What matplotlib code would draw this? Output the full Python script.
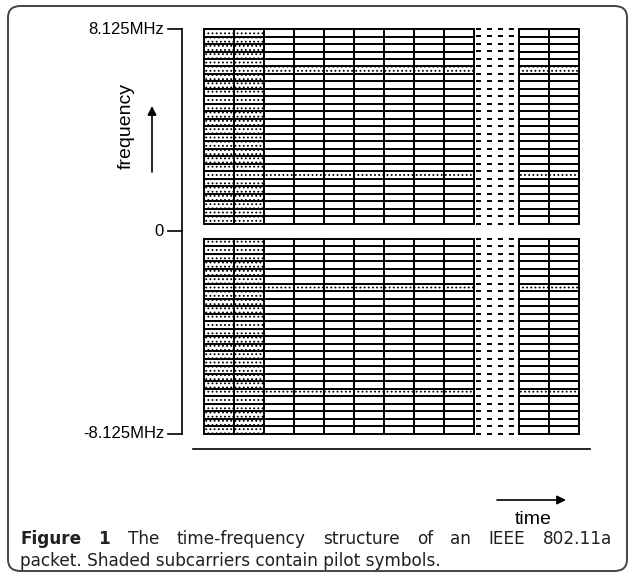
import matplotlib.pyplot as plt
from matplotlib.patches import FancyBboxPatch

plt.rcParams['lines.scale_dashes'] = False
plt.rcParams['hatch.color'] = 'black'
plt.rcParams['hatch.linewidth'] = 0.8

# OFDM symbol grid: 26 subcarriers either side of DC
n_sub = 26
pilot_subcarriers = [-21, -7, 7, 21]
preamble_symbols = 2
symbols_before_gap = 9
symbols_after_gap = 2
freq_ticks = [-27, 0, 27]
freq_labels = ['-8.125MHz', '0', '8.125MHz']

caption_line1 = [('Figure', 'bold'), ('1', 'bold'), ('The', 'normal'),
                 ('time-frequency', 'normal'), ('structure', 'normal'),
                 ('of', 'normal'), ('an', 'normal'), ('IEEE', 'normal'),
                 ('802.11a', 'normal')]
caption_line2 = 'packet. Shaded subcarriers contain pilot symbols.'

fig = plt.figure(figsize=(6.35, 5.77), dpi=100)
ax = fig.add_axes([0, 0, 1, 1])
# one column = 30 px, one subcarrier row = 7.5 px
ax.set_xlim(-204 / 30, (635 - 204) / 30)
ax.set_ylim((231.5 - 577) / 7.5, 231.5 / 7.5)
ax.axis('off')

lw = 1.4
gap = 1.5
cols = list(range(symbols_before_gap)) + \
    [symbols_before_gap + gap + i for i in range(symbols_after_gap)]
subs = [k for k in range(-n_sub, n_sub + 1) if k != 0]

for ci, x0 in enumerate(cols):
    for k in subs:
        y0 = k if k > 0 else k - 1
        shaded = ci < preamble_symbols or k in pilot_subcarriers
        ax.bar(x0, 1, width=1, bottom=y0, align='edge',
               facecolor='white', edgecolor='black', linewidth=lw,
               hatch='....' if shaded else None, zorder=2)

# dashed continuation between the two symbol groups
line_ys = [y for y in range(-n_sub - 1, n_sub + 2) if y != 0]
ax.hlines(line_ys, symbols_before_gap + 2 / 30, symbols_before_gap + gap - 3 / 30,
          colors='black', linewidth=lw, linestyles=[(0, (3.6, 4.3))])

# frequency axis with ticks
ax_x = -22 / 30
ax.plot([ax_x, ax_x], [freq_ticks[0], freq_ticks[-1]], color='black', lw=1.2)
for t, lab in zip(freq_ticks, freq_labels):
    ax.plot([ax_x - 14 / 30, ax_x], [t, t], color='black', lw=1.2)
    ax.text(ax_x - 18 / 30, t, lab, ha='right', va='center',
            fontsize=12, family='Liberation Sans')

ax.annotate('', xy=(-52 / 30, (231.5 - 106) / 7.5), xytext=(-52 / 30, (231.5 - 172) / 7.5),
            arrowprops=dict(arrowstyle='-|>', color='black', lw=1.2,
                            mutation_scale=13, shrinkA=0, shrinkB=0))
ax.text(-78 / 30, (231.5 - 126) / 7.5, 'frequency', rotation=90, ha='center',
        va='center', fontsize=14, family='Liberation Sans')

# time axis
time_y = (231.5 - 449) / 7.5
ax.plot([-11 / 30, 386 / 30], [time_y, time_y], color='black', lw=1.2)
arr_y = (231.5 - 500) / 7.5
ax.annotate('', xy=(362 / 30, arr_y), xytext=(293 / 30, arr_y),
            arrowprops=dict(arrowstyle='-|>', color='black', lw=1.2,
                            mutation_scale=13, shrinkA=0, shrinkB=0))
ax.text(329 / 30, (231.5 - 520) / 7.5, 'time', ha='center', va='center',
        fontsize=14, family='Liberation Sans')

# caption frame
W, H = 635, 577
box = FancyBboxPatch((8 / W, 6 / H), 619 / W, 565 / H,
                     boxstyle='round,pad=0,rounding_size=0.02',
                     transform=fig.transFigure, facecolor='none',
                     edgecolor='#444444', linewidth=1.4)
fig.patches.append(box)

# justified first caption line
cap_col = '#231f20'
cap_fs = 12.2
cap_font = 'DejaVu Sans'
left, right = 20, 612
words = [fig.text(0, 1 - 539 / H, w, fontsize=cap_fs, weight=wt,
                  family=cap_font, color=cap_col, va='center')
         for w, wt in caption_line1]
fig.canvas.draw()
rend = fig.canvas.get_renderer()
widths = [t.get_window_extent(rend).width for t in words]
space = (right - left - sum(widths)) / (len(words) - 1)
x = left
for t, w in zip(words, widths):
    t.set_x(x / W)
    x += w + space

fig.text(left / W, 1 - 561 / H, caption_line2, fontsize=cap_fs,
         family=cap_font, color=cap_col, va='center')

fig.savefig('out.png', dpi=100)
